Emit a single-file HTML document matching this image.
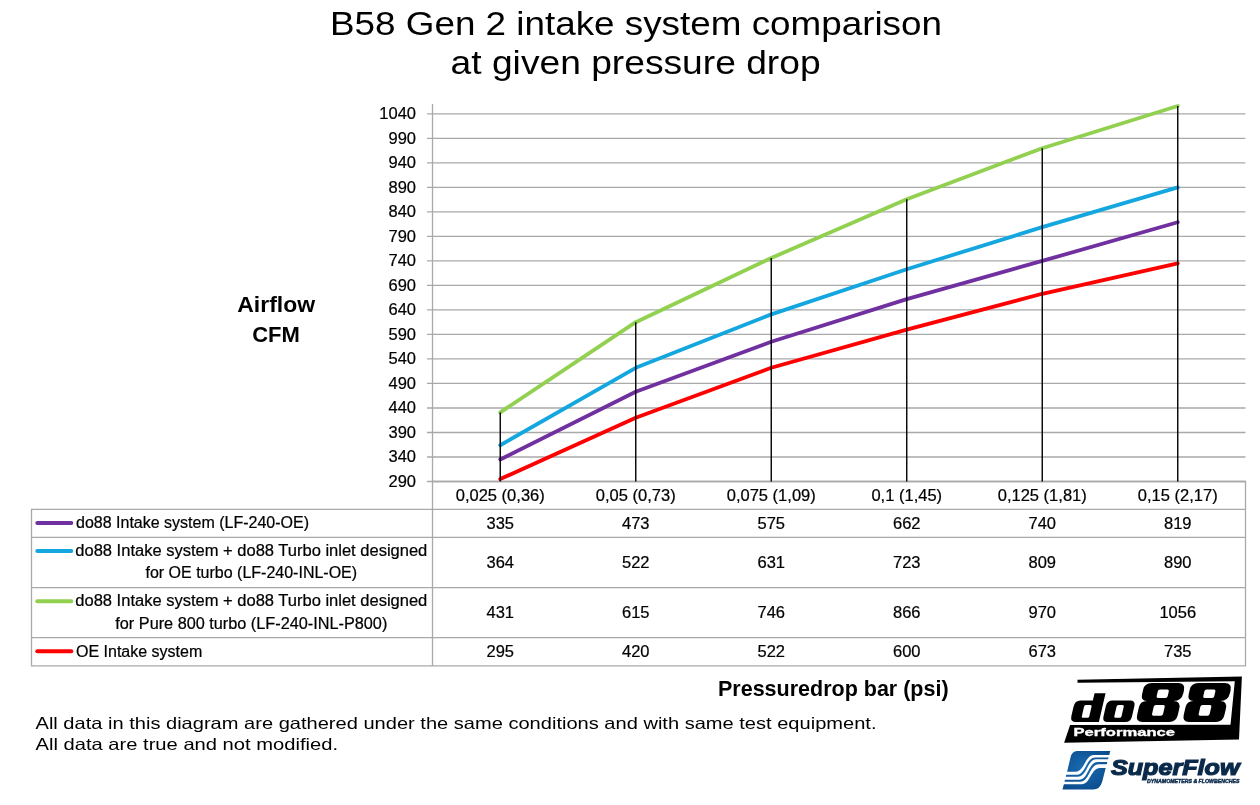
<!DOCTYPE html>
<html><head><meta charset="utf-8"><style>
html,body{margin:0;padding:0;background:#fff;}
body{width:1260px;height:805px;overflow:hidden;position:relative;}
svg{position:absolute;left:0;top:0;will-change:transform;}
text{font-family:"Liberation Sans",sans-serif;fill:#000;}
.c text{stroke:#000;stroke-width:0.22;}
</style></head><body>
<svg width="1260" height="805" viewBox="0 0 1260 805">

<text x="636" y="35" font-size="33" text-anchor="middle" textLength="612" lengthAdjust="spacingAndGlyphs">B58 Gen 2 intake system comparison</text>
<text x="635.6" y="74" font-size="33" text-anchor="middle" textLength="370" lengthAdjust="spacingAndGlyphs">at given pressure drop</text>
<path d="M427 481.50H1245.5 M427 456.99H1245.5 M427 432.49H1245.5 M427 407.98H1245.5 M427 383.47H1245.5 M427 358.97H1245.5 M427 334.46H1245.5 M427 309.95H1245.5 M427 285.44H1245.5 M427 260.94H1245.5 M427 236.43H1245.5 M427 211.92H1245.5 M427 187.42H1245.5 M427 162.91H1245.5 M427 138.40H1245.5 M427 113.89H1245.5" stroke="#a9a9a9" stroke-width="1.3" fill="none"/>
<path d="M432.5 104V665.9" stroke="#a9a9a9" stroke-width="1.3" fill="none"/>
<g class="c">
<text x="416" y="486.90" font-size="16.5" text-anchor="end">290</text>
<text x="416" y="462.39" font-size="16.5" text-anchor="end">340</text>
<text x="416" y="437.89" font-size="16.5" text-anchor="end">390</text>
<text x="416" y="413.38" font-size="16.5" text-anchor="end">440</text>
<text x="416" y="388.87" font-size="16.5" text-anchor="end">490</text>
<text x="416" y="364.37" font-size="16.5" text-anchor="end">540</text>
<text x="416" y="339.86" font-size="16.5" text-anchor="end">590</text>
<text x="416" y="315.35" font-size="16.5" text-anchor="end">640</text>
<text x="416" y="290.84" font-size="16.5" text-anchor="end">690</text>
<text x="416" y="266.34" font-size="16.5" text-anchor="end">740</text>
<text x="416" y="241.83" font-size="16.5" text-anchor="end">790</text>
<text x="416" y="217.32" font-size="16.5" text-anchor="end">840</text>
<text x="416" y="192.82" font-size="16.5" text-anchor="end">890</text>
<text x="416" y="168.31" font-size="16.5" text-anchor="end">940</text>
<text x="416" y="143.80" font-size="16.5" text-anchor="end">990</text>
<text x="416" y="119.29" font-size="16.5" text-anchor="end">1040</text>
</g>
<path d="M432.5 481.5H1245.5V665.9H31.5V509.3H1245.5 M31.5 537.3H1245.5 M31.5 587.7H1245.5 M31.5 637.7H1245.5" stroke="#a9a9a9" stroke-width="1.3" fill="none"/>
<polyline points="500.25,459.44 635.75,391.80 771.25,341.81 906.75,299.17 1042.25,260.94 1177.75,222.22" stroke="#7030a0" stroke-width="3.8" fill="none" stroke-linejoin="round" stroke-linecap="round"/>
<polyline points="500.25,445.23 635.75,367.79 771.25,314.36 906.75,269.27 1042.25,227.12 1177.75,187.42" stroke="#13a6df" stroke-width="3.8" fill="none" stroke-linejoin="round" stroke-linecap="round"/>
<polyline points="500.25,412.39 635.75,322.20 771.25,258.00 906.75,199.18 1042.25,148.20 1177.75,106.05" stroke="#92d050" stroke-width="3.8" fill="none" stroke-linejoin="round" stroke-linecap="round"/>
<polyline points="500.25,479.05 635.75,417.78 771.25,367.79 906.75,329.56 1042.25,293.78 1177.75,263.39" stroke="#ff0000" stroke-width="3.8" fill="none" stroke-linejoin="round" stroke-linecap="round"/>
<path d="M500.25 412.39V481.5 M635.75 322.20V481.5 M771.25 258.00V481.5 M906.75 199.18V481.5 M1042.25 148.20V481.5 M1177.75 106.05V481.5" stroke="#000" stroke-width="1.4" fill="none"/>
<g class="c">
<text x="500.25" y="501" font-size="16.5" text-anchor="middle">0,025 (0,36)</text>
<text x="635.75" y="501" font-size="16.5" text-anchor="middle">0,05 (0,73)</text>
<text x="771.25" y="501" font-size="16.5" text-anchor="middle">0,075 (1,09)</text>
<text x="906.75" y="501" font-size="16.5" text-anchor="middle">0,1 (1,45)</text>
<text x="1042.25" y="501" font-size="16.5" text-anchor="middle">0,125 (1,81)</text>
<text x="1177.75" y="501" font-size="16.5" text-anchor="middle">0,15 (2,17)</text>
<text x="500.25" y="528.8" font-size="16.5" text-anchor="middle">335</text>
<text x="635.75" y="528.8" font-size="16.5" text-anchor="middle">473</text>
<text x="771.25" y="528.8" font-size="16.5" text-anchor="middle">575</text>
<text x="906.75" y="528.8" font-size="16.5" text-anchor="middle">662</text>
<text x="1042.25" y="528.8" font-size="16.5" text-anchor="middle">740</text>
<text x="1177.75" y="528.8" font-size="16.5" text-anchor="middle">819</text>
<text x="500.25" y="568.3" font-size="16.5" text-anchor="middle">364</text>
<text x="635.75" y="568.3" font-size="16.5" text-anchor="middle">522</text>
<text x="771.25" y="568.3" font-size="16.5" text-anchor="middle">631</text>
<text x="906.75" y="568.3" font-size="16.5" text-anchor="middle">723</text>
<text x="1042.25" y="568.3" font-size="16.5" text-anchor="middle">809</text>
<text x="1177.75" y="568.3" font-size="16.5" text-anchor="middle">890</text>
<text x="500.25" y="618.4" font-size="16.5" text-anchor="middle">431</text>
<text x="635.75" y="618.4" font-size="16.5" text-anchor="middle">615</text>
<text x="771.25" y="618.4" font-size="16.5" text-anchor="middle">746</text>
<text x="906.75" y="618.4" font-size="16.5" text-anchor="middle">866</text>
<text x="1042.25" y="618.4" font-size="16.5" text-anchor="middle">970</text>
<text x="1177.75" y="618.4" font-size="16.5" text-anchor="middle">1056</text>
<text x="500.25" y="657.4" font-size="16.5" text-anchor="middle">295</text>
<text x="635.75" y="657.4" font-size="16.5" text-anchor="middle">420</text>
<text x="771.25" y="657.4" font-size="16.5" text-anchor="middle">522</text>
<text x="906.75" y="657.4" font-size="16.5" text-anchor="middle">600</text>
<text x="1042.25" y="657.4" font-size="16.5" text-anchor="middle">673</text>
<text x="1177.75" y="657.4" font-size="16.5" text-anchor="middle">735</text>
</g>
<path d="M37.3 523.1H71.3" stroke="#7030a0" stroke-width="4" stroke-linecap="round"/>
<path d="M37.3 551H71.3" stroke="#13a6df" stroke-width="4" stroke-linecap="round"/>
<path d="M37.3 601.3H71.3" stroke="#92d050" stroke-width="4" stroke-linecap="round"/>
<path d="M37.3 651.3H71.3" stroke="#ff0000" stroke-width="4" stroke-linecap="round"/>
<g class="c">
<text x="76" y="528" font-size="16">do88 Intake system (LF-240-OE)</text>
<text x="75.3" y="555.6" font-size="16" textLength="352" lengthAdjust="spacingAndGlyphs">do88 Intake system + do88 Turbo inlet designed</text>
<text x="251.3" y="578.3" font-size="16" text-anchor="middle">for OE turbo (LF-240-INL-OE)</text>
<text x="75.3" y="605.8" font-size="16" textLength="352" lengthAdjust="spacingAndGlyphs">do88 Intake system + do88 Turbo inlet designed</text>
<text x="251.3" y="628.5" font-size="16" text-anchor="middle" textLength="272" lengthAdjust="spacingAndGlyphs">for Pure 800 turbo (LF-240-INL-P800)</text>
<text x="76" y="656.6" font-size="16">OE Intake system</text>
</g>
<text x="276.2" y="311.7" font-size="22" font-weight="bold" text-anchor="middle" textLength="77.8" lengthAdjust="spacingAndGlyphs">Airflow</text>
<text x="276" y="342.4" font-size="22" font-weight="bold" text-anchor="middle">CFM</text>
<text x="718" y="696" font-size="21.5" font-weight="bold">Pressuredrop bar (psi)</text>
<text x="35.5" y="729.1" font-size="16.5" textLength="841" lengthAdjust="spacingAndGlyphs">All data in this diagram are gathered under the same conditions and with same test equipment.</text>
<text x="35.5" y="750.2" font-size="16.5" textLength="302.5" lengthAdjust="spacingAndGlyphs">All data are true and not modified.</text>
<path d="M1077.5 679.8L1241.9 676.5L1239 739.5L1064.1 742.8L1070.1 725.1L1230.5 724.8L1234.8 681.2L1077.5 682.8Z" fill="#000"/>
<g transform="translate(1071 722) skewX(-13)"><path d="M4.5 -21.5H16.9V-28.8H27.9V0H5Q-1 0 -1 -6V-15.5Q-1 -21.5 4.5 -21.5Z" fill="#000"/><path d="M11.0 -17H15.5Q17 -17 17 -15.5V-5.7Q17 -4.2 15.5 -4.2H11.0Q9.5 -4.2 9.5 -5.7V-15.5Q9.5 -17 11.0 -17Z" fill="#fff"/></g>
<g transform="translate(1103 722) skewX(-13)"><path d="M4.7 -21.5H22.2Q27.7 -21.5 27.7 -16.0V-5.5Q27.7 0 22.2 0H4.7Q-0.8 0 -0.8 -5.5V-16.0Q-0.8 -21.5 4.7 -21.5Z" fill="#000"/><path d="M11.5 -17H15.7Q17.2 -17 17.2 -15.5V-5.7Q17.2 -4.2 15.7 -4.2H11.5Q10 -4.2 10 -5.7V-15.5Q10 -17 11.5 -17Z" fill="#fff"/></g>
<g transform="translate(1136.2 722) skewX(-13)"><path d="M6.5 -38.9H33Q40.5 -38.9 40.5 -31.4V-29Q40.5 -21 32.5 -21Q40 -21 40 -13V-7Q40 0 33 0H6.3Q-0.7 0 -0.7 -7V-15Q-0.7 -21 5.7 -21Q-0.5 -21 -0.5 -27.5V-32.4Q-0.5 -38.9 6.5 -38.9Z" fill="#000"/><path d="M16.3 -32.6H23.7Q25.5 -32.6 25.5 -30.8V-25.8Q25.5 -24 23.7 -24H16.3Q14.5 -24 14.5 -25.8V-30.8Q14.5 -32.6 16.3 -32.6ZM15.8 -17.1H23.2Q25 -17.1 25 -15.3V-8.0Q25 -6.2 23.2 -6.2H15.8Q14 -6.2 14 -8.0V-15.3Q14 -17.1 15.8 -17.1Z" fill="#fff"/></g>
<g transform="translate(1182.8 722) skewX(-13)"><path d="M6.5 -38.9H33Q40.5 -38.9 40.5 -31.4V-29Q40.5 -21 32.5 -21Q40 -21 40 -13V-7Q40 0 33 0H6.3Q-0.7 0 -0.7 -7V-15Q-0.7 -21 5.7 -21Q-0.5 -21 -0.5 -27.5V-32.4Q-0.5 -38.9 6.5 -38.9Z" fill="#000"/><path d="M16.3 -32.6H23.7Q25.5 -32.6 25.5 -30.8V-25.8Q25.5 -24 23.7 -24H16.3Q14.5 -24 14.5 -25.8V-30.8Q14.5 -32.6 16.3 -32.6ZM15.8 -17.1H23.2Q25 -17.1 25 -15.3V-8.0Q25 -6.2 23.2 -6.2H15.8Q14 -6.2 14 -8.0V-15.3Q14 -17.1 15.8 -17.1Z" fill="#fff"/></g>
<text x="1073.5" y="736.4" font-size="11.2" font-weight="bold" style="fill:#fff" stroke="#fff" stroke-width="0.35" textLength="101.5" lengthAdjust="spacingAndGlyphs">Performance</text>
<defs><radialGradient id="sfg" cx="0.45" cy="0.45" r="0.65"><stop offset="0" stop-color="#1a6db3"/><stop offset="1" stop-color="#0a4a8a"/></radialGradient></defs>
<path d="M1077 750.9H1110.3L1105.7 768L1102.2 781.7Q1100 789.4 1093 789.4H1062.5L1067.1 771.7L1070.5 757.4Q1072 750.9 1077 750.9Z" fill="url(#sfg)"/>
<path d="M1050 771.7H1075.5C1084.75 771.7 1084.75 754.9 1094.0 754.9H1120 L1120 757.4H1095.2C1085.95 757.4 1085.95 774.8 1076.7 774.8H1050Z" fill="#fff"/>
<path d="M1050 776.7H1077.9C1087.15 776.7 1087.15 759.3 1096.4 759.3H1120 L1120 762.0H1097.6C1088.35 762.0 1088.35 779.8 1079.1 779.8H1050Z" fill="#fff"/>
<path d="M1050 781.7H1080.3C1089.55 781.7 1089.55 764.3 1098.8 764.3H1120 L1120 768.0H1100.0C1090.75 768.0 1090.75 784.2 1081.5 784.2H1050Z" fill="#fff"/>
<text x="1111" y="774.7" font-size="21.5" font-weight="bold" font-style="italic" style="fill:#0b2a4a" stroke="#0c2b4c" stroke-width="1.2" textLength="128.5" lengthAdjust="spacingAndGlyphs">SuperFlow</text>
<text x="1147" y="782.8" font-size="5.8" font-weight="bold" font-style="italic" style="fill:#0b2a4a" stroke="#0c2b4c" stroke-width="0.45" textLength="92.5" lengthAdjust="spacingAndGlyphs">DYNAMOMETERS &amp; FLOWBENCHES</text>
</svg>
</body></html>
